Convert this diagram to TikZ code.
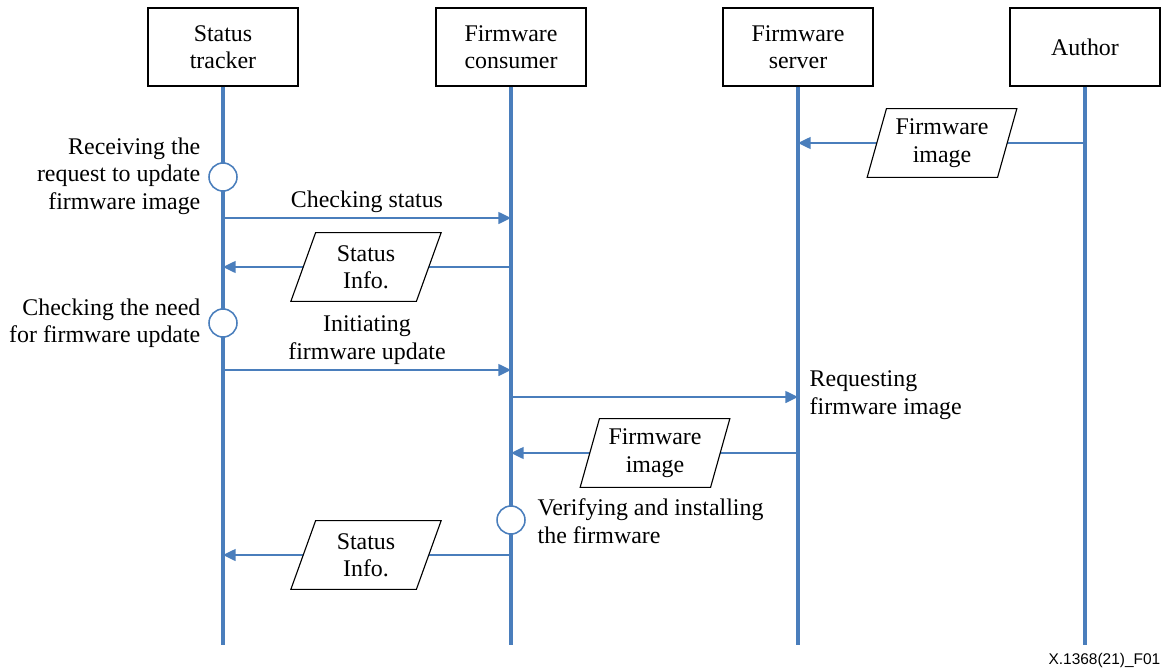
\documentclass[tikz,border=0pt]{standalone}
\usepackage{fontspec}
\setmainfont{Liberation Serif}
\newfontfamily\figfont{Liberation Sans}
\usepackage{xcolor}
\usepackage{tikz}
\usetikzlibrary{shapes,shapes.geometric,arrows.meta,calc,positioning}
\definecolor{lineblue}{RGB}{74,126,188}

\begin{document}
\begin{tikzpicture}
[x=0.025cm,y=-0.025cm,
every node/.style={font=\fontsize{17}{19.5}\selectfont,inner sep=1pt},
actor/.style={draw,line width=0.8pt,minimum width=3.75cm,minimum height=1.95cm,align=center,fill=white},
life/.style={lineblue,line width=2.5pt},
state/.style={circle,draw=lineblue,line width=1.1pt,fill=white,minimum size=0.7cm},
msg/.style={lineblue,line width=1.1pt,-{Triangle[length=9pt,width=8.5pt]}},
data/.style={trapezium,trapezium left angle=72,trapezium right angle=108,trapezium stretches=true,
	draw,line width=0.8pt,fill=white,minimum width=3.78cm,minimum height=1.72cm,align=center}]
\useasboundingbox (0,0) rectangle (1169,670);

% participants
\node[actor] (st) at (223,47) {Status\\tracker};
\node[actor] (fc) at (511,47) {Firmware\\consumer};
\node[actor] (fs) at (798,47) {Firmware\\server};
\node[actor] (au) at (1085,47) {Author};

\foreach \who/\xx in {st/223,fc/511,fs/798,au/1085}
{
	\coordinate (\who-end) at (\xx,645);
	\draw[life] (\who.south) -- (\who-end);
}

% message end points
\coordinate (m1a) at (1085,143); \coordinate (m1b) at (798,143);
\coordinate (m2a) at (223,218);  \coordinate (m2b) at (511,218);
\coordinate (m3a) at (511,267);  \coordinate (m3b) at (223,267);
\coordinate (m4a) at (223,370);  \coordinate (m4b) at (511,370);
\coordinate (m5a) at (511,397);  \coordinate (m5b) at (798,397);
\coordinate (m6a) at (798,453);  \coordinate (m6b) at (511,453);
\coordinate (m7a) at (511,555);  \coordinate (m7b) at (223,555);

\foreach \from/\to in {m1a/m1b,m2a/m2b,m3a/m3b,m4a/m4b,m5a/m5b,m6a/m6b,m7a/m7b}
	\draw[msg] (\from) -- (\to);

% data
\node[data] (d1) at (942,143) {Firmware\\image};
\node[data] (d2) at (366,267) {Status\\Info.};
\node[data] (d3) at (655,453) {Firmware\\image};
\node[data] (d4) at (366,555) {Status\\Info.};

% states
\node[state] (s1) at (223,177) {};
\node[state] (s2) at (223,323) {};
\node[state] (s3) at (511,520) {};

\node[anchor=east,align=right] (l1) at (202,176) {Receiving the\\request to update\\firmware image};
\node[anchor=east,align=right] (l2) at (202,323) {Checking the need\\for firmware update};
\node[anchor=west,align=left] (l3) at (536,521) {Verifying and installing\\the firmware};
\node (l4) at (367,202) {Checking status};
\node[align=center] (l5) at (367,340) {Initiating\\firmware update};
\node[anchor=west,align=left] (l6) at (808,395) {Requesting\\firmware image};

\node[anchor=east,font=\figfont\fontsize{11}{13}\selectfont] (fig) at (1162,660) {X.1368(21)\_F01};
\end{tikzpicture}
\end{document}
